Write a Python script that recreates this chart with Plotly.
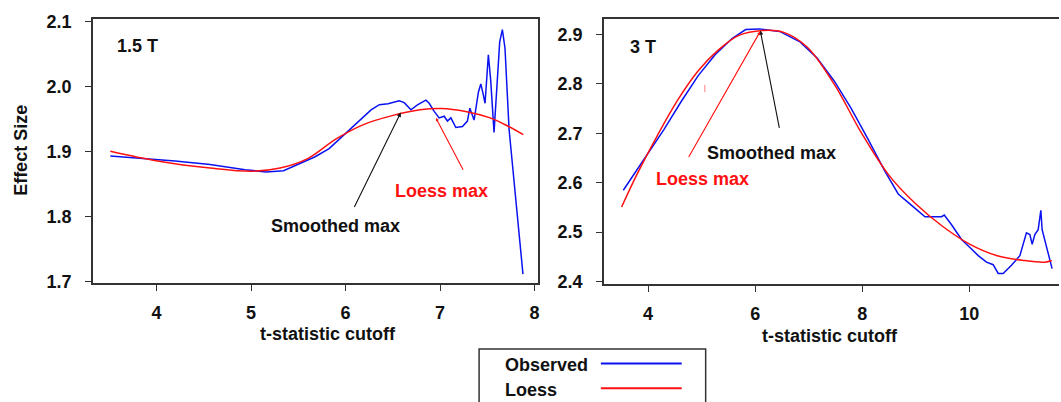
import plotly.graph_objects as go

W, H = 1061, 402

# ---------------- data: 1.5 T panel ----------------
obs15_x = [3.511, 3.826, 4.196, 4.567, 4.937, 5.159, 5.344, 5.493, 5.678, 5.826, 5.974,
           6.122, 6.270, 6.358, 6.450, 6.567, 6.621, 6.692, 6.761, 6.850, 6.885, 6.938,
           6.990, 7.043, 7.078, 7.114, 7.167, 7.237, 7.289, 7.315, 7.360, 7.406, 7.431,
           7.455, 7.476, 7.511, 7.536, 7.571, 7.606, 7.631, 7.659, 7.687, 7.730, 7.800, 7.877]
obs15_y = [1.893, 1.8896, 1.8856, 1.880, 1.872, 1.8687, 1.8706, 1.880, 1.892, 1.9045, 1.924,
           1.944, 1.964, 1.9721, 1.9735, 1.9782, 1.9752, 1.9642, 1.9716, 1.979, 1.9742, 1.9618,
           1.9518, 1.9543, 1.9469, 1.9518, 1.9369, 1.9384, 1.9469, 1.9667, 1.9484, 1.9916, 2.004,
           1.9891, 1.9742, 2.0488, 2.009, 1.9294, 2.004, 2.0687, 2.0876, 2.0588, 1.9343, 1.8249, 1.7115]
loess15_x = [3.511, 4.011, 4.567, 5.011, 5.307, 5.604, 5.900, 6.196, 6.493, 6.789, 7.011,
             7.270, 7.530, 7.715, 7.881]
loess15_y = [1.9005, 1.8856, 1.8746, 1.8697, 1.8746, 1.8896, 1.9194, 1.9418, 1.9552, 1.9642,
             1.9662, 1.9617, 1.9517, 1.9393, 1.9259]

# ---------------- data: 3 T panel ----------------
obs3_x = [3.537, 3.854, 4.298, 4.616, 4.933, 5.251, 5.568, 5.822, 6.076, 6.457, 6.838,
          7.156, 7.473, 7.790, 8.108, 8.425, 8.672, 8.922, 9.172, 9.481, 9.532, 9.668,
          9.855, 10.011, 10.166, 10.321, 10.446, 10.539, 10.632, 10.787, 10.944, 11.067,
          11.130, 11.174, 11.224, 11.286, 11.336, 11.360, 11.546]
obs3_y = [2.5848, 2.6359, 2.708, 2.7637, 2.8161, 2.8587, 2.8915, 2.9098, 2.9111, 2.9059, 2.8849,
          2.8522, 2.8063, 2.7506, 2.6883, 2.6228, 2.5772, 2.5542, 2.5311, 2.5311, 2.5345, 2.5148,
          2.4852, 2.4689, 2.4524, 2.4394, 2.4341, 2.4164, 2.4164, 2.4331, 2.4524, 2.4986,
          2.4951, 2.4754, 2.4951, 2.5049, 2.5443, 2.5049, 2.4262]
loess3_x = [3.505, 3.790, 4.171, 4.552, 4.933, 5.314, 5.695, 6.140, 6.520, 6.965, 7.473,
            7.981, 8.489, 8.997, 9.505, 10.013, 10.521, 11.029, 11.410, 11.540]
loess3_y = [2.5507, 2.6163, 2.6949, 2.767, 2.826, 2.8685, 2.898, 2.9079, 2.9046, 2.875, 2.7997,
            2.7014, 2.6163, 2.5573, 2.5114, 2.4754, 2.4524, 2.4426, 2.4393, 2.4426]

# ticks
x15_ticks = [4, 5, 6, 7, 8]
y15_ticks = [1.7, 1.8, 1.9, 2.0, 2.1]
x3_ticks = [4, 6, 8, 10]
y3_ticks = [2.4, 2.5, 2.6, 2.7, 2.8, 2.9]

BLUE = "#0a12f0"
RED = "#ff1010"
AX = "#333333"
FONT = "Liberation Sans"


def px(x):
    return x / W


def py(y):
    # convert a target pixel row into paper coordinates (with a small calibration)
    yi = (y - 1.13) / 0.9868
    return 1 - yi / H


fig = go.Figure()
fig.add_trace(go.Scatter(x=obs15_x, y=obs15_y, mode="lines", line=dict(color=BLUE, width=1.5),
                         xaxis="x", yaxis="y", showlegend=False))
fig.add_trace(go.Scatter(x=loess15_x, y=loess15_y, mode="lines", line=dict(color=RED, width=1.5, shape="spline"),
                         xaxis="x", yaxis="y", showlegend=False))
fig.add_trace(go.Scatter(x=obs3_x, y=obs3_y, mode="lines", line=dict(color=BLUE, width=1.5),
                         xaxis="x2", yaxis="y2", showlegend=False))
fig.add_trace(go.Scatter(x=loess3_x, y=loess3_y, mode="lines", line=dict(color=RED, width=1.5, shape="spline"),
                         xaxis="x2", yaxis="y2", showlegend=False))

tickfont = dict(family=FONT, size=18, color="#111111", weight="bold")
axcommon = dict(showgrid=False, zeroline=False, showline=True, linecolor=AX, linewidth=1.5,
                ticks="outside", ticklen=6, tickcolor=AX, tickwidth=1.2, tickfont=tickfont)

fig.update_layout(
    width=W, height=H,
    margin=dict(l=0, r=0, t=0, b=0),
    paper_bgcolor="white", plot_bgcolor="white",
    xaxis=dict(domain=[px(93), px(539)], range=[3.326, 8.036], tickvals=x15_ticks,
               mirror=True, anchor="y", ticklabelstandoff=6, **axcommon),
    yaxis=dict(domain=[py(285), py(13)], range=[1.6975, 2.1045], tickvals=y15_ticks,
               tickformat=".1f", mirror=True, anchor="x", ticklabelstandoff=10, **axcommon),
    xaxis2=dict(domain=[px(605), 1.0], range=[3.174, 11.675], tickvals=x3_ticks,
                mirror=True, anchor="y2", ticklabelstandoff=6, **axcommon),
    yaxis2=dict(domain=[py(286), py(13)], range=[2.3947, 2.932], tickvals=y3_ticks,
                tickformat=".1f", mirror=False, anchor="x2", ticklabelstandoff=10, **axcommon),
)

bold18 = dict(family=FONT, size=18, color="#111111", weight="bold")
red18 = dict(family=FONT, size=18, color=RED, weight="bold")

ann = []
# axis titles and panel labels
ann.append(dict(text="Effect Size", x=px(21), y=py(148), xref="paper", yref="paper",
                textangle=-90, showarrow=False, font=bold18, xanchor="center", yanchor="middle"))
ann.append(dict(text="t-statistic cutoff", x=px(329), y=py(337), xref="paper", yref="paper",
                showarrow=False, font=bold18, xanchor="center", yanchor="middle"))
ann.append(dict(text="t-statistic cutoff", x=px(832), y=py(339), xref="paper", yref="paper",
                showarrow=False, font=bold18, xanchor="center", yanchor="middle"))
ann.append(dict(text="1.5 T", x=px(115), y=py(41), xref="paper", yref="paper",
                showarrow=False, font=bold18, xanchor="left", yanchor="middle"))
ann.append(dict(text="3 T", x=px(629), y=py(42), xref="paper", yref="paper",
                showarrow=False, font=bold18, xanchor="left", yanchor="middle"))

# 1.5 T callouts
ann.append(dict(text="Smoothed max", x=5.891, y=1.786, xref="x", yref="y", showarrow=False,
                font=bold18, xanchor="center", yanchor="middle"))
ann.append(dict(text="", x=6.585, y=1.960, ax=6.085, ay=1.8124, xref="x", yref="y",
                axref="x", ayref="y", showarrow=True, arrowhead=2, arrowsize=0.8,
                arrowwidth=1.1, arrowcolor="#111111"))
ann.append(dict(text="Loess max", x=7.011, y=1.839, xref="x", yref="y", showarrow=False,
                font=red18, xanchor="center", yanchor="middle"))
ann.append(dict(text="", x=6.956, y=1.9517, ax=7.252, ay=1.8697, xref="x", yref="y",
                axref="x", ayref="y", showarrow=True, arrowhead=2, arrowsize=0.6,
                arrowwidth=1.1, arrowcolor=RED))

# 3 T callouts
ann.append(dict(text="Smoothed max", x=6.298, y=2.660, xref="x2", yref="y2", showarrow=False,
                font=bold18, xanchor="center", yanchor="middle"))
ann.append(dict(text="", x=6.095, y=2.908, ax=6.457, ay=2.708, xref="x2", yref="y2",
                axref="x2", ayref="y2", showarrow=True, arrowhead=2, arrowsize=0.8,
                arrowwidth=1.1, arrowcolor="#111111"))
ann.append(dict(text="Loess max", x=5.022, y=2.6077, xref="x2", yref="y2", showarrow=False,
                font=red18, xanchor="center", yanchor="middle"))
ann.append(dict(text="", x=6.095, y=2.906, ax=4.743, ay=2.649, xref="x2", yref="y2",
                axref="x2", ayref="y2", showarrow=True, arrowhead=2, arrowsize=0.6,
                arrowwidth=1.1, arrowcolor=RED))

# legend (drawn manually: text on the left, line sample on the right)
ann.append(dict(text="Observed", x=px(504), y=py(369), xref="paper", yref="paper",
                showarrow=False, font=bold18, xanchor="left", yanchor="middle"))
ann.append(dict(text="Loess", x=px(504), y=py(394.5), xref="paper", yref="paper",
                showarrow=False, font=bold18, xanchor="left", yanchor="middle"))

shapes = [
    dict(type="rect", xref="paper", yref="paper", x0=px(480), x1=px(707), y0=-0.05, y1=py(352.5),
         line=dict(color=AX, width=1.5), fillcolor="rgba(0,0,0,0)"),
    dict(type="line", xref="paper", yref="paper", x0=px(602), x1=px(683), y0=py(367.5), y1=py(367.5),
         line=dict(color=BLUE, width=2)),
    dict(type="line", xref="paper", yref="paper", x0=px(602), x1=px(683), y0=py(393), y1=py(393),
         line=dict(color=RED, width=2)),
    # small red mark inside the 3 T panel
    dict(type="line", xref="x2", yref="y2", x0=5.06, x1=5.06, y0=2.783, y1=2.798,
         line=dict(color="#ff8080", width=1)),
]

fig.update_layout(annotations=ann, shapes=shapes)
fig.write_html("out.html", config={"displayModeBar": False},
               post_script="document.body.style.margin='0';document.body.style.overflow='hidden';")
